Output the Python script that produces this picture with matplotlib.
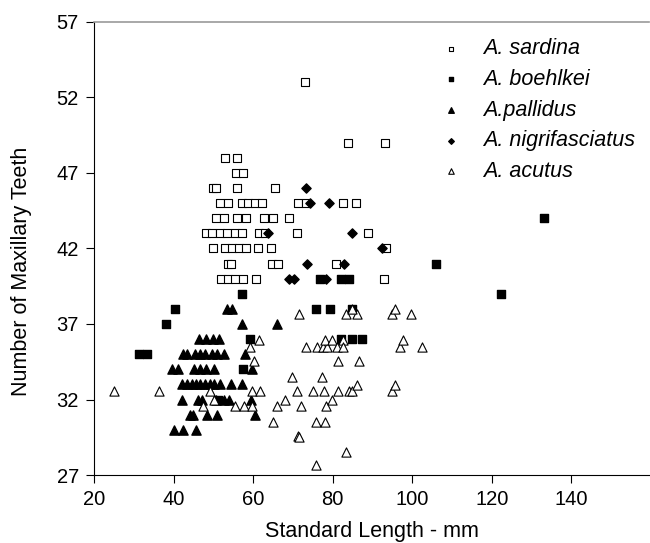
import matplotlib
matplotlib.use("Agg")
import matplotlib.pyplot as plt

plt.rcParams['font.family'] = ['Liberation Sans', 'DejaVu Sans']

# A. sardina (open squares)
sardina_x = [73.0, 83.75, 93.25, 53.0, 56.0, 55.6, 57.4,
             50.0, 50.75, 56.0, 65.5,
             51.75, 53.75, 57.25, 58.75, 60.5, 62.25, 71.25, 73.25, 82.5, 85.75,
             50.75, 52.75, 56.0, 58.25, 62.75, 65.0, 69.0,
             48.0, 49.75, 51.75, 53.5, 55.5, 57.25, 61.5, 63.0, 71.0, 88.75,
             50.0, 53.0, 54.75, 56.5, 58.25, 61.25, 64.5, 93.5,
             53.75, 54.5, 64.75, 66.25, 80.75,
             52.0, 53.75, 55.5, 57.5, 60.75, 93.0]
sardina_y = [53, 49, 49, 48, 48, 47, 47,
             46, 46, 46, 46,
             45, 45, 45, 45, 45, 45, 45, 45, 45, 45,
             44, 44, 44, 44, 44, 44, 44,
             43, 43, 43, 43, 43, 43, 43, 43, 43, 43,
             42, 42, 42, 42, 42, 42, 42, 42,
             41, 41, 41, 41, 41,
             40, 40, 40, 40, 40, 40]

# A. boehlkei (filled squares)
boehlkei_x = [133.25, 106.0, 122.25, 57.25, 75.75, 79.25, 84.75, 40.25, 38.0,
              59.25, 82.0, 84.75, 87.25, 31.25, 33.25, 57.5, 51.25,
              76.75, 82.0, 84.0]
boehlkei_y = [44, 41, 39, 39, 38, 38, 38, 38, 37,
              36, 36, 36, 36, 35, 35, 34, 32,
              40, 40, 40]

# A. pallidus (filled triangles)
pallidus_x = [53.5, 54.75, 57.25, 66.0,
              46.25, 48.0, 50.0, 51.5,
              42.25, 43.25, 45.25, 46.5, 47.75, 49.75, 51.0, 52.75, 58.0,
              39.5, 41.0, 45.0, 46.5, 48.0, 50.25, 59.75,
              42.0, 43.25, 44.5, 45.5, 46.5, 47.75, 49.0, 50.25, 51.75, 54.5, 57.25,
              42.0, 46.0, 47.0, 50.75, 52.75, 54.0, 59.5,
              44.0, 44.75, 48.25, 51.0, 60.5,
              40.0, 42.25, 45.5]
pallidus_y = [38, 38, 37, 37,
              36, 36, 36, 36,
              35, 35, 35, 35, 35, 35, 35, 35, 35,
              34, 34, 34, 34, 34, 34, 34,
              33, 33, 33, 33, 33, 33, 33, 33, 33, 33, 33,
              32, 32, 32, 32, 32, 32, 32,
              31, 31, 31, 31, 31,
              30, 30, 30]

# A. nigrifasciatus (filled diamonds)
nigri_x = [73.25, 74.25, 79.0, 63.75, 84.75, 92.5, 73.5, 82.75, 69.0, 70.25, 78.25]
nigri_y = [46, 45, 45, 43, 43, 42, 41, 41, 40, 40, 40]

# A. acutus (open triangles)
acutus_x = [25.0, 36.25, 49.0, 47.3, 50.25, 55.5, 57.75, 59.7, 59.8, 61.75,
            59.2, 61.5, 60.25, 71.5, 83.3, 86.1, 84.75, 94.8, 95.7, 99.8,
            73.2, 76.1, 77.5, 78.6, 78.0, 79.8, 82.5, 81.1, 82.5, 96.9,
            97.75, 102.5, 81.3, 86.7, 69.8, 77.3, 71.1, 75.0, 77.75, 81.3,
            84.0, 84.8, 86.1, 94.8, 95.7, 66.1, 68.0, 71.9, 78.2, 79.8,
            65.0, 75.7, 78.0, 71.3, 71.6, 83.3, 75.7]
acutus_y = [32.56, 32.56, 32.56, 31.57, 32.0, 31.57, 31.57, 31.57, 32.56, 32.56,
            35.5, 35.94, 34.57, 37.64, 37.64, 37.64, 38.0, 37.64, 38.0, 37.64,
            35.5, 35.5, 35.5, 35.5, 35.94, 35.94, 35.94, 35.5, 35.5, 35.5,
            35.94, 35.5, 34.57, 34.57, 33.5, 33.5, 32.56, 32.56, 32.56, 32.56,
            32.56, 32.56, 32.96, 32.56, 32.96, 31.57, 32.0, 31.57, 31.57, 32.0,
            30.53, 30.53, 30.53, 29.6, 29.5, 28.54, 27.66]

fig = plt.figure(figsize=(6.5, 5.43), dpi=100)
ax = fig.add_axes([0.145, 0.125, 0.853, 0.835])

ax.scatter(sardina_x, sardina_y, marker='s', s=34, facecolors='white',
           edgecolors='black', linewidths=0.8, label='A. sardina', zorder=3)
ax.scatter(boehlkei_x, boehlkei_y, marker='s', s=34, color='black',
           label='A. boehlkei', zorder=3)
ax.scatter(pallidus_x, pallidus_y, marker='^', s=44, color='black',
           label='A.pallidus', zorder=3)
ax.scatter(nigri_x, nigri_y, marker='D', s=22, color='black',
           label='A. nigrifasciatus', zorder=3)
ax.scatter(acutus_x, acutus_y, marker='^', s=44, facecolors='white',
           edgecolors='black', linewidths=0.8, label='A. acutus', zorder=3)

ax.set_xlim(20, 159.5)
ax.set_ylim(27, 57)
ax.set_xticks([20, 40, 60, 80, 100, 120, 140])
ax.set_yticks([27, 32, 37, 42, 47, 52, 57])
ax.tick_params(direction='out', length=6, pad=5, labelsize=14.5)

ax.spines['right'].set_visible(False)
ax.spines['top'].set_color('#999999')
ax.spines['top'].set_linewidth(1.2)

ax.set_xlabel('Standard Length - mm', fontsize=15.5, labelpad=8)
ax.set_ylabel('Number of Maxillary Teeth', fontsize=15.5)
ax.yaxis.set_label_coords(-0.113, 0.45)

leg = ax.legend(loc='upper right', bbox_to_anchor=(1.01, 1.006), frameon=False,
                markerscale=0.6, handletextpad=0.5, handlelength=2.0,
                labelspacing=0.45, prop={'style': 'italic', 'size': 15.5})

fig.savefig('out.png', dpi=100)
